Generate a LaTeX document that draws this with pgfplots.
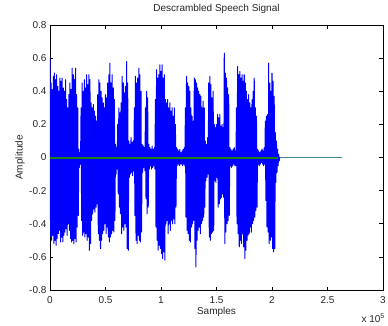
\documentclass[border=0pt]{standalone}
\usepackage{fontspec}
\setmainfont{Liberation Sans}
\usepackage{pgfplots}
\pgfplotsset{compat=1.18}
\definecolor{sigblue}{rgb}{0,0,1}
\definecolor{tealline}{rgb}{0.25,0.55,0.55}
\definecolor{mgreen}{rgb}{0.1,0.5,0.1}
\definecolor{txt}{rgb}{0.15,0.15,0.15}
\begin{document}
\begin{tikzpicture}
\useasboundingbox (-50pt,-35pt) rectangle (338pt,290pt);
\begin{axis}[
  name=ax,
  at={(0,0)}, anchor=south west,
  scale only axis, width=333pt, height=265pt,
  xmin=0, xmax=3, ymin=-0.8, ymax=0.8,
  xtick={0,0.5,1,1.5,2,2.5,3},
  xticklabels={0,0.5,1,1.5,2,2.5,3},
  ytick={-0.8,-0.6,-0.4,-0.2,0,0.2,0.4,0.6,0.8},
  yticklabels={-0.8,-0.6,-0.4,-0.2,0,0.2,0.4,0.6,0.8},
  tick pos=both, tick align=inside, major tick length=3.5pt,
  every tick/.style={black, line width=0.6pt},
  axis line style={black, line width=0.9pt},
  font=\fontsize{10}{12}\selectfont,
  tick label style={text=txt, font=\fontsize{10}{12}\selectfont},
  xticklabel style={anchor=center, yshift=-10pt},
  title={Descrambled Speech Signal},
  title style={at={(axis description cs:0.5,1)}, anchor=base, yshift=8pt, text=txt, font=\fontsize{10}{12}\selectfont},
  xlabel={Samples},
  xlabel style={at={(axis description cs:0.5,0)}, anchor=center, yshift=-22pt, text=txt},
  ylabel={Amplitude},
  ylabel style={at={(axis description cs:-0.09,0.5)}, anchor=center, text=txt},
]
\addplot[tealline, line width=1.8pt] coordinates {(0,0) (2.63,0)};
\addplot[sigblue, line width=1.0pt, line join=round] coordinates {
(0.000,0.60)(0.005,-0.48)(0.010,0.45)(0.015,-0.50)(0.020,0.41)(0.025,-0.47)
(0.030,0.49)(0.035,-0.52)(0.040,0.51)(0.045,-0.50)(0.050,0.47)(0.055,-0.53)
(0.060,0.50)(0.065,-0.49)(0.070,0.43)(0.075,-0.46)(0.080,0.40)(0.085,-0.44)
(0.090,0.48)(0.095,-0.51)(0.100,0.46)(0.105,-0.48)(0.110,0.48)(0.115,-0.51)
(0.120,0.42)(0.125,-0.47)(0.130,0.40)(0.135,-0.45)(0.140,0.47)(0.145,-0.43)
(0.150,0.35)(0.155,-0.47)(0.160,0.30)(0.165,-0.40)(0.170,0.38)(0.175,-0.44)
(0.180,0.45)(0.185,-0.49)(0.190,0.41)(0.195,-0.51)(0.200,0.54)(0.205,-0.50)
(0.210,0.50)(0.215,-0.52)(0.220,0.47)(0.225,-0.49)(0.230,0.54)(0.235,-0.51)
(0.240,0.38)(0.245,-0.42)(0.250,0.30)(0.255,-0.35)(0.260,0.05)(0.265,-0.06)
(0.270,0.03)(0.275,-0.04)(0.280,0.30)(0.285,-0.38)(0.290,0.45)(0.295,-0.47)
(0.300,0.40)(0.305,-0.45)(0.310,0.47)(0.315,-0.48)(0.320,0.42)(0.325,-0.46)
(0.330,0.50)(0.335,-0.50)(0.340,0.44)(0.345,-0.48)(0.350,0.50)(0.355,-0.56)
(0.360,0.47)(0.365,-0.52)(0.370,0.33)(0.375,-0.38)(0.380,0.30)(0.385,-0.34)
(0.390,0.32)(0.395,-0.31)(0.400,0.28)(0.405,-0.33)(0.410,0.25)(0.415,-0.30)
(0.420,0.22)(0.425,-0.28)(0.430,0.38)(0.435,-0.46)(0.440,0.47)(0.445,-0.50)
(0.450,0.45)(0.455,-0.55)(0.460,0.40)(0.465,-0.50)(0.470,0.36)(0.475,-0.46)
(0.480,0.33)(0.485,-0.44)(0.490,0.30)(0.495,-0.40)(0.500,0.38)(0.505,-0.46)
(0.510,0.36)(0.515,-0.42)(0.520,0.45)(0.525,-0.48)(0.530,0.50)(0.535,-0.51)
(0.540,0.57)(0.545,-0.48)(0.550,0.45)(0.555,-0.46)(0.560,0.50)(0.565,-0.44)
(0.570,0.42)(0.575,-0.45)(0.580,0.35)(0.585,-0.38)(0.590,0.08)(0.595,-0.10)
(0.600,0.06)(0.605,-0.07)(0.610,0.20)(0.615,-0.22)(0.620,0.30)(0.625,-0.30)
(0.630,0.27)(0.635,-0.34)(0.640,0.33)(0.645,-0.46)(0.650,0.49)(0.655,-0.42)
(0.660,0.45)(0.665,-0.44)(0.670,0.39)(0.675,-0.40)(0.680,0.43)(0.685,-0.42)
(0.690,0.58)(0.695,-0.55)(0.700,0.45)(0.705,-0.56)(0.710,0.10)(0.715,-0.12)
(0.720,0.08)(0.725,-0.10)(0.730,0.12)(0.735,-0.09)(0.740,0.09)(0.745,-0.11)
(0.750,0.10)(0.755,-0.08)(0.760,0.30)(0.765,-0.35)(0.770,0.49)(0.775,-0.50)
(0.780,0.45)(0.785,-0.52)(0.790,0.48)(0.795,-0.47)(0.800,0.54)(0.805,-0.50)
(0.810,0.50)(0.815,-0.51)(0.820,0.40)(0.825,-0.45)(0.830,0.08)(0.835,-0.09)
(0.840,0.07)(0.845,-0.06)(0.850,0.06)(0.855,-0.08)(0.860,0.30)(0.865,-0.25)
(0.870,0.40)(0.875,-0.34)(0.880,0.36)(0.885,-0.30)(0.890,0.08)(0.895,-0.07)
(0.900,0.06)(0.905,-0.05)(0.910,0.05)(0.915,-0.07)(0.920,0.07)(0.925,-0.06)
(0.930,0.05)(0.935,-0.05)(0.940,0.06)(0.945,-0.07)(0.950,0.35)(0.955,-0.42)
(0.960,0.53)(0.965,-0.50)(0.970,0.48)(0.975,-0.56)(0.980,0.50)(0.985,-0.53)
(0.990,0.56)(0.995,-0.55)(1.000,0.52)(1.005,-0.58)(1.010,0.56)(1.015,-0.61)
(1.020,0.48)(1.025,-0.57)(1.030,0.50)(1.035,-0.62)(1.040,0.35)(1.045,-0.40)
(1.050,0.33)(1.055,-0.38)(1.060,0.35)(1.065,-0.46)(1.070,0.30)(1.075,-0.40)
(1.080,0.33)(1.085,-0.44)(1.090,0.28)(1.095,-0.38)(1.100,0.30)(1.105,-0.40)
(1.110,0.25)(1.115,-0.37)(1.120,0.30)(1.125,-0.40)(1.130,0.20)(1.135,-0.30)
(1.140,0.06)(1.145,-0.05)(1.150,0.05)(1.155,-0.04)(1.160,0.04)(1.165,-0.05)
(1.170,0.05)(1.175,-0.04)(1.180,0.03)(1.185,-0.04)(1.190,0.04)(1.195,-0.05)
(1.200,0.05)(1.205,-0.04)(1.210,0.06)(1.215,-0.05)(1.220,0.30)(1.225,-0.36)
(1.230,0.49)(1.235,-0.44)(1.240,0.45)(1.245,-0.46)(1.250,0.43)(1.255,-0.50)
(1.260,0.40)(1.265,-0.51)(1.270,0.30)(1.275,-0.42)(1.280,0.25)(1.285,-0.40)
(1.290,0.22)(1.295,-0.38)(1.300,0.48)(1.305,-0.55)(1.310,0.47)(1.315,-0.66)
(1.320,0.45)(1.325,-0.50)(1.330,0.42)(1.335,-0.44)(1.340,0.40)(1.345,-0.42)
(1.350,0.38)(1.355,-0.46)(1.360,0.37)(1.365,-0.40)(1.370,0.30)(1.375,-0.38)
(1.380,0.34)(1.385,-0.36)(1.390,0.30)(1.395,-0.30)(1.400,0.10)(1.405,-0.14)
(1.410,0.08)(1.415,-0.12)(1.420,0.12)(1.425,-0.10)(1.430,0.45)(1.435,-0.48)
(1.440,0.49)(1.445,-0.50)(1.450,0.44)(1.455,-0.46)(1.460,0.36)(1.465,-0.45)
(1.470,0.40)(1.475,-0.44)(1.480,0.20)(1.485,-0.14)(1.490,0.18)(1.495,-0.15)
(1.500,0.20)(1.505,-0.12)(1.510,0.26)(1.515,-0.30)(1.520,0.24)(1.525,-0.28)
(1.530,0.26)(1.535,-0.25)(1.540,0.19)(1.545,-0.24)(1.550,0.20)(1.555,-0.22)
(1.560,0.18)(1.565,-0.24)(1.570,0.63)(1.575,-0.52)(1.580,0.51)(1.585,-0.45)
(1.590,0.48)(1.595,-0.40)(1.600,0.42)(1.605,-0.38)(1.610,0.38)(1.615,-0.35)
(1.620,0.06)(1.625,-0.05)(1.630,0.05)(1.635,-0.06)(1.640,0.04)(1.645,-0.05)
(1.650,0.05)(1.655,-0.04)(1.660,0.06)(1.665,-0.05)(1.670,0.04)(1.675,-0.05)
(1.680,0.30)(1.685,-0.40)(1.690,0.55)(1.695,-0.46)(1.700,0.50)(1.705,-0.54)
(1.710,0.52)(1.715,-0.50)(1.720,0.48)(1.725,-0.52)(1.730,0.50)(1.735,-0.46)
(1.740,0.46)(1.745,-0.54)(1.750,0.50)(1.755,-0.61)(1.760,0.45)(1.765,-0.56)
(1.770,0.40)(1.775,-0.50)(1.780,0.35)(1.785,-0.47)(1.790,0.38)(1.795,-0.46)
(1.800,0.33)(1.805,-0.42)(1.810,0.30)(1.815,-0.45)(1.820,0.35)(1.825,-0.40)
(1.830,0.40)(1.835,-0.38)(1.840,0.48)(1.845,-0.36)(1.850,0.30)(1.855,-0.32)
(1.860,0.25)(1.865,-0.30)(1.870,0.05)(1.875,-0.04)(1.880,0.04)(1.885,-0.05)
(1.890,0.03)(1.895,-0.04)(1.900,0.04)(1.905,-0.03)(1.910,0.05)(1.915,-0.04)
(1.920,0.04)(1.925,-0.05)(1.930,0.06)(1.935,-0.04)(1.940,0.22)(1.945,-0.26)
(1.950,0.25)(1.955,-0.42)(1.960,0.26)(1.965,-0.45)(1.970,0.57)(1.975,-0.52)
(1.980,0.45)(1.985,-0.50)(1.990,0.40)(1.995,-0.48)(2.000,0.51)(2.005,-0.55)
(2.010,0.46)(2.015,-0.57)(2.020,0.37)(2.025,-0.55)(2.030,0.15)(2.035,-0.15)
(2.040,0.10)(2.045,-0.09)(2.050,0.05)(2.055,-0.05)(2.060,0.02)(2.065,-0.02)
(2.070,0)
};
\addplot[mgreen, line width=2pt] coordinates {(0,0) (2.05,0)};
\end{axis}
\node[anchor=east, text=txt, font=\fontsize{10}{12}\selectfont, inner sep=0pt] at ([xshift=2pt, yshift=-28pt]ax.south east) {x 10\textsuperscript{5}};
\end{tikzpicture}
\end{document}
